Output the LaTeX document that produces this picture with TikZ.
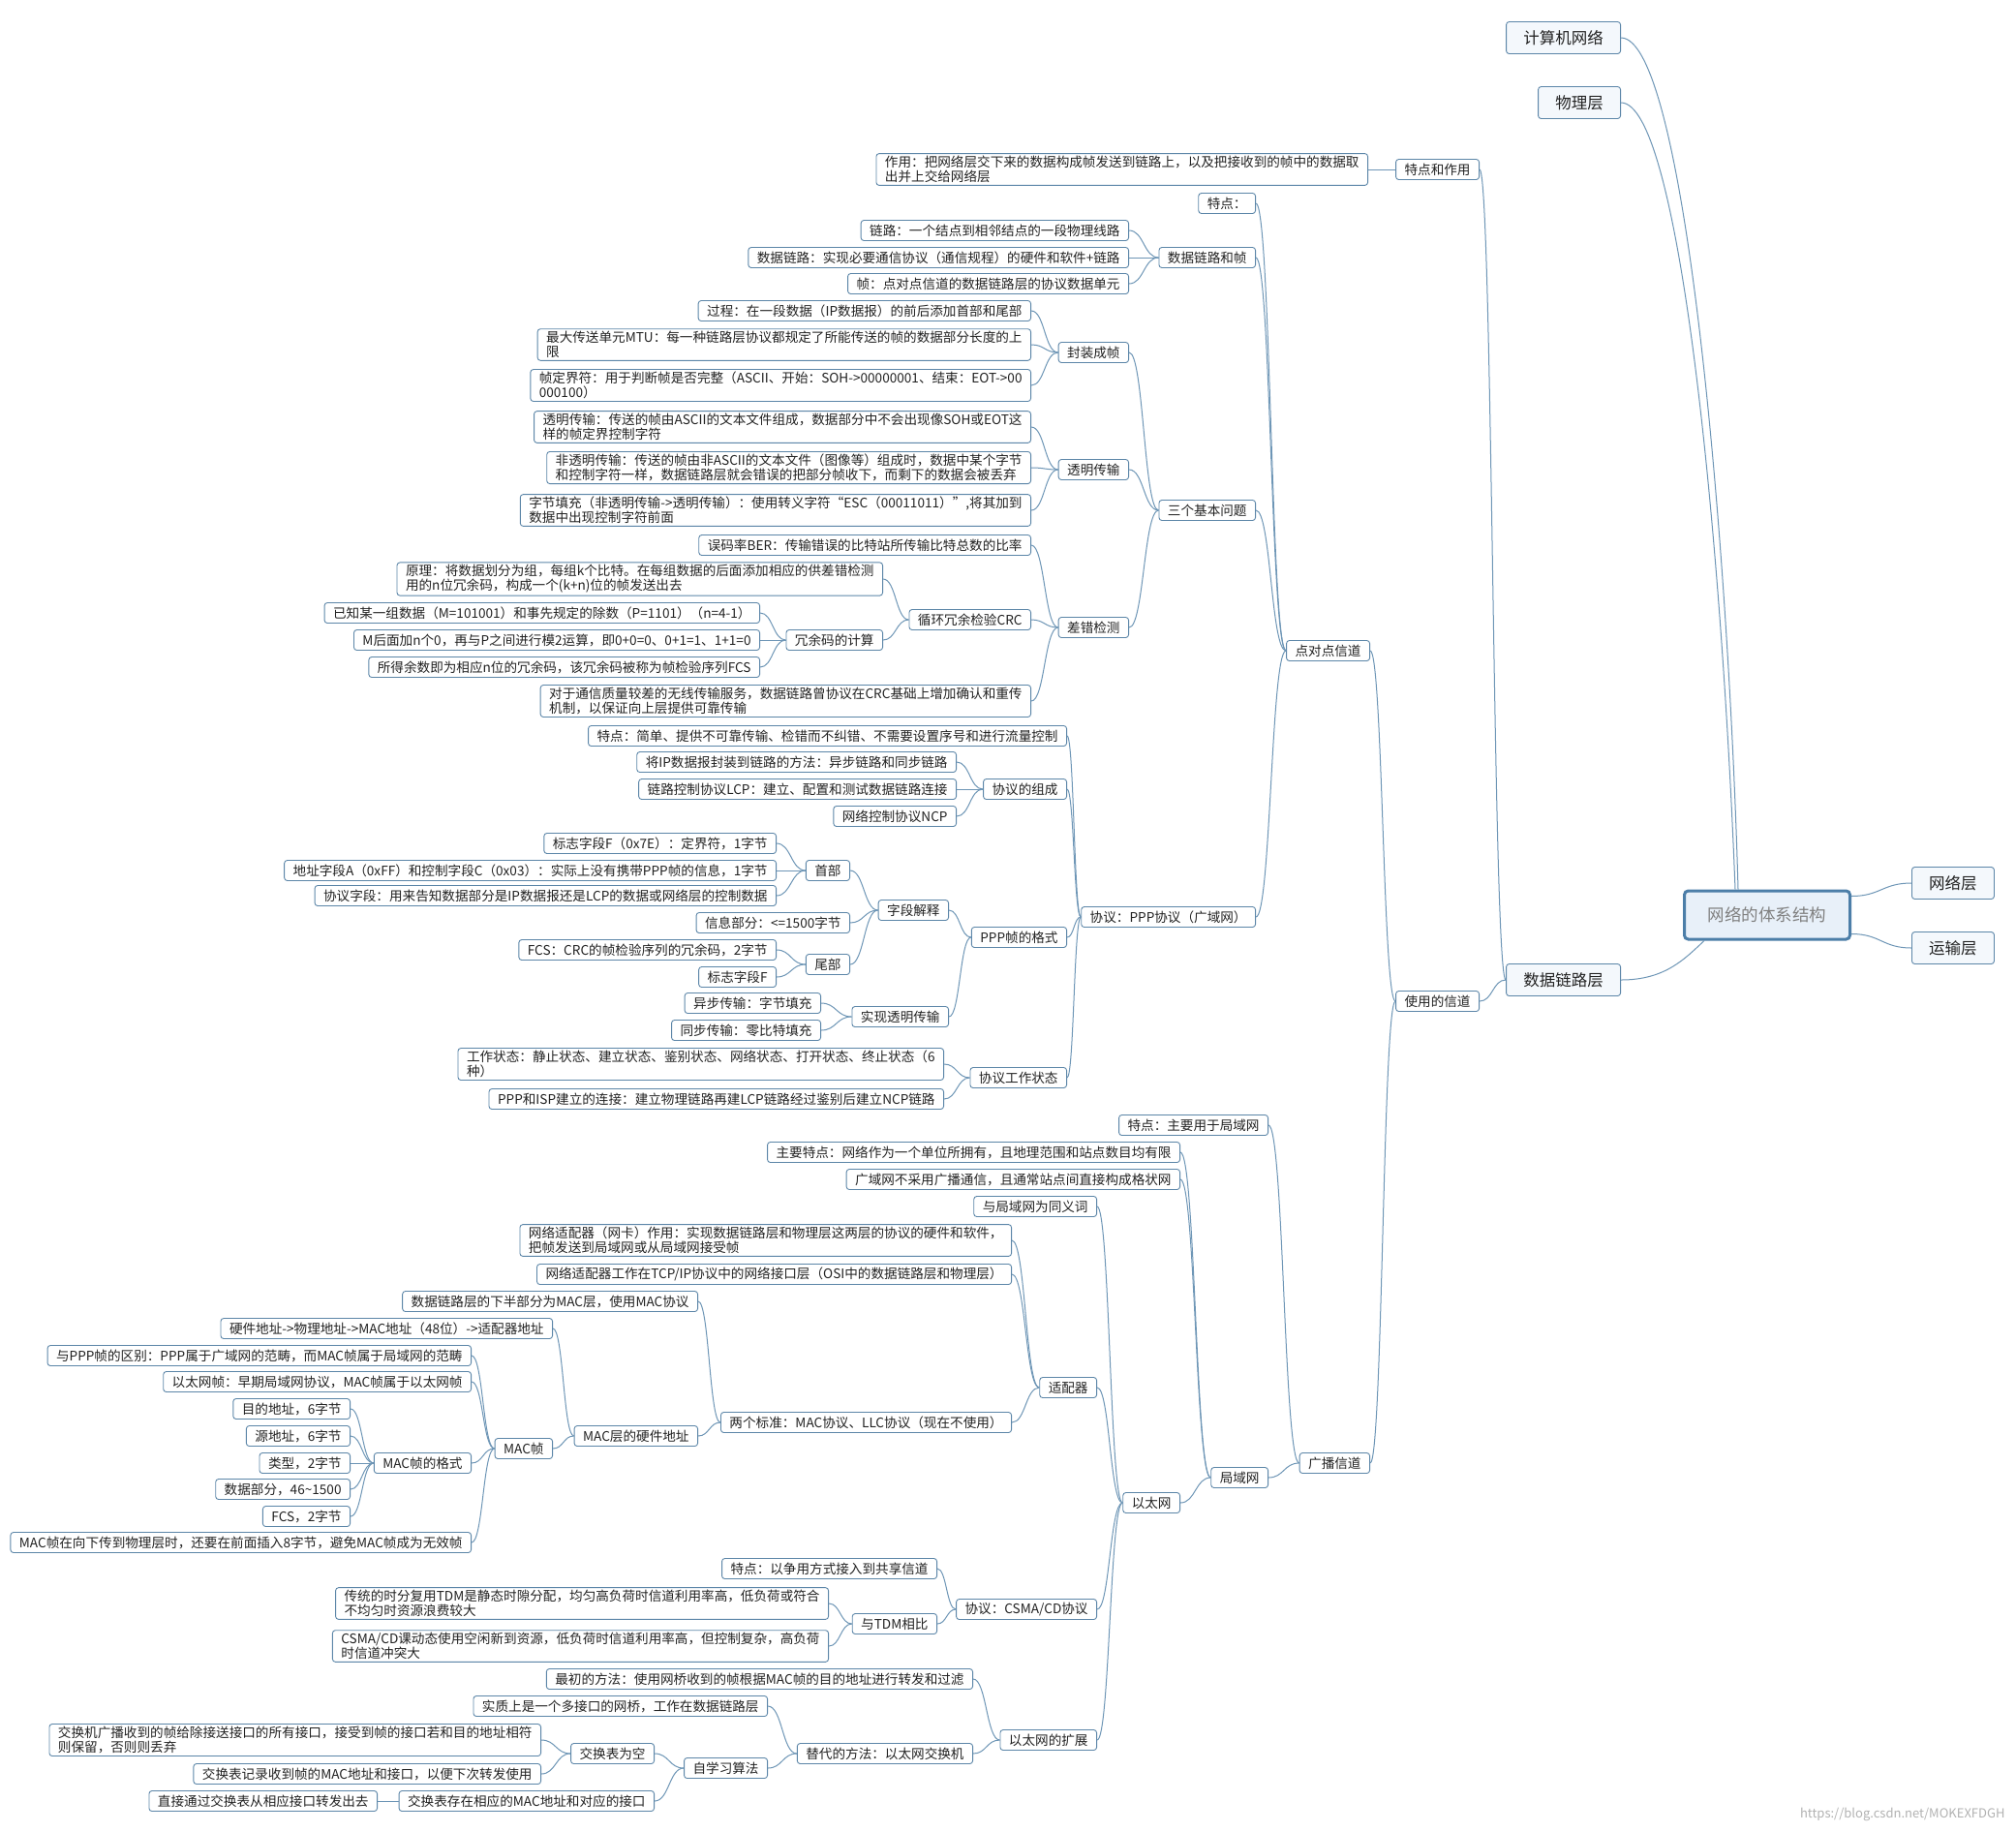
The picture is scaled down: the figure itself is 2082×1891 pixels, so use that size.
\documentclass[tikz,border=0pt]{standalone}
\usepackage{fontspec}
\setmainfont{Noto Sans CJK SC}
\usetikzlibrary{calc}
\definecolor{bc}{RGB}{92,134,168}
\definecolor{lc}{RGB}{110,150,182}
\definecolor{topfill}{RGB}{244,248,252}
\definecolor{rootfill}{RGB}{232,240,249}
\definecolor{rootbc}{RGB}{76,126,168}
\definecolor{tc}{RGB}{34,34,34}
\newcommand\lk[2]{\draw[lnk] let \p1=(#1.east), \p2=(#2.west), \n1={0.5*(\x2-\x1)} in (\p1) .. controls +(\n1,0pt) and +(-\n1,0pt) .. (\p2);}
\begin{document}
\begin{tikzpicture}[x=1pt,y=-1pt,
  nd/.style={draw=bc, rounded corners=3pt, fill=white, line width=0.9pt, inner xsep=9pt, inner ysep=2.5pt, minimum height=21pt, font=\fontsize{13.6}{15}\selectfont, text=tc, anchor=east, align=left},
  topn/.style={nd, fill=topfill, font=\fontsize{16.5}{18}\selectfont, minimum height=33pt, align=center},
  rootn/.style={draw=rootbc, line width=3pt, rounded corners=4pt, fill=rootfill, minimum width=171pt, minimum height=50pt, font=\fontsize{17.5}{19}\selectfont, text=black!50},
  lnk/.style={draw=lc, line width=1pt}]
\useasboundingbox (0,0) rectangle (2082,1891);
\fill[white] (0,0) rectangle (2082,1891);

% top level
\node[topn, minimum width=118pt] (n1) at (1674,39) {计算机网络};
\node[topn, minimum width=85pt] (n2) at (1674,106) {物理层};
\node[topn, minimum width=118pt] (dl) at (1674,1012) {数据链路层};
\node[rootn] (root) at (1825,945) {网络的体系结构};
\node[topn, anchor=west, minimum width=85pt] (n4) at (1974,912) {网络层};
\node[topn, anchor=west, minimum width=85pt] (n5) at (1974,979) {运输层};

\node[nd] (a) at (1528,175) {特点和作用};
\node[nd] (b) at (1528,1034) {使用的信道};
\node[nd] (a1) at (1413,175) {作用：把网络层交下来的数据构成帧发送到链路上，以及把接收到的帧中的数据取\\出并上交给网络层};
\node[nd] (b1) at (1415,672) {点对点信道};
\node[nd] (b2) at (1415,1511) {广播信道};

\node[nd] (b1a) at (1297,210) {特点：};
\node[nd] (b1b) at (1297,266) {数据链路和帧};
\node[nd] (b1c) at (1297,527) {三个基本问题};
\node[nd] (b1d) at (1297,947) {协议：PPP协议（广域网）};

\node[nd] (b1b1) at (1166,238) {链路：一个结点到相邻结点的一段物理线路};
\node[nd] (b1b2) at (1166,266) {数据链路：实现必要通信协议（通信规程）的硬件和软件+链路};
\node[nd] (b1b3) at (1166,293) {帧：点对点信道的数据链路层的协议数据单元};

\node[nd] (c1) at (1166,364) {封装成帧};
\node[nd] (c2) at (1166,485) {透明传输};
\node[nd] (c3) at (1166,648) {差错检测};

\node[nd] (c11) at (1065,321) {过程：在一段数据（IP数据报）的前后添加首部和尾部};
\node[nd] (c12) at (1065,356) {最大传送单元MTU：每一种链路层协议都规定了所能传送的帧的数据部分长度的上\\限};
\node[nd] (c13) at (1065,398) {帧定界符：用于判断帧是否完整（ASCII、开始：SOH->00000001、结束：EOT->00\\000100）};
\node[nd] (c21) at (1065,441) {透明传输：传送的帧由ASCII的文本文件组成，数据部分中不会出现像SOH或EOT这\\样的帧定界控制字符};
\node[nd] (c22) at (1065,483) {非透明传输：传送的帧由非ASCII的文本文件（图像等）组成时，数据中某个字节\\和控制字符一样，数据链路层就会错误的把部分帧收下，而剩下的数据会被丢弃};
\node[nd] (c23) at (1065,527) {字节填充（非透明传输->透明传输）：使用转义字符“ESC（00011011）”,将其加到\\数据中出现控制字符前面};
\node[nd] (c31) at (1065,563) {误码率BER：传输错误的比特站所传输比特总数的比率};
\node[nd] (c32) at (1065,640) {循环冗余检验CRC};
\node[nd] (c33) at (1065,724) {对于通信质量较差的无线传输服务，数据链路曾协议在CRC基础上增加确认和重传\\机制，以保证向上层提供可靠传输};

\node[nd] (c321) at (912,598) {原理：将数据划分为组，每组k个比特。在每组数据的后面添加相应的供差错检测\\用的n位冗余码，构成一个(k+n)位的帧发送出去};
\node[nd] (c322) at (912,661) {冗余码的计算};
\node[nd] (c3221) at (785,633) {已知某一组数据（M=101001）和事先规定的除数（P=1101）（n=4-1）};
\node[nd] (c3222) at (785,661) {M后面加n个0，再与P之间进行模2运算，即0+0=0、0+1=1、1+1=0};
\node[nd] (c3223) at (785,689) {所得余数即为相应n位的冗余码，该冗余码被称为帧检验序列FCS};

\node[nd] (p1) at (1102,760) {特点：简单、提供不可靠传输、检错而不纠错、不需要设置序号和进行流量控制};
\node[nd] (p2) at (1102,815) {协议的组成};
\node[nd] (p3) at (1102,968) {PPP帧的格式};
\node[nd] (p4) at (1102,1113) {协议工作状态};
\node[nd] (p21) at (988,787) {将IP数据报封装到链路的方法：异步链路和同步链路};
\node[nd] (p22) at (988,815) {链路控制协议LCP：建立、配置和测试数据链路连接};
\node[nd] (p23) at (988,843) {网络控制协议NCP};
\node[nd] (p31) at (980,940) {字段解释};
\node[nd] (p32) at (980,1050) {实现透明传输};
\node[nd] (p311) at (878,899) {首部};
\node[nd] (p312) at (878,953) {信息部分：<=1500字节};
\node[nd] (p313) at (878,996) {尾部};
\node[nd] (p3111) at (802,871) {标志字段F（0x7E）：定界符，1字节};
\node[nd] (p3112) at (802,899) {地址字段A（0xFF）和控制字段C（0x03）：实际上没有携带PPP帧的信息，1字节};
\node[nd] (p3113) at (802,925) {协议字段：用来告知数据部分是IP数据报还是LCP的数据或网络层的控制数据};
\node[nd] (p3131) at (802,981) {FCS：CRC的帧检验序列的冗余码，2字节};
\node[nd] (p3132) at (802,1009) {标志字段F};
\node[nd] (p321) at (848,1036) {异步传输：字节填充};
\node[nd] (p322) at (848,1064) {同步传输：零比特填充};
\node[nd] (p41) at (975,1099) {工作状态：静止状态、建立状态、鉴别状态、网络状态、打开状态、终止状态（6\\种）};
\node[nd] (p42) at (975,1135) {PPP和ISP建立的连接：建立物理链路再建LCP链路经过鉴别后建立NCP链路};

\node[nd] (g1) at (1310,1162) {特点：主要用于局域网};
\node[nd] (g2) at (1310,1526) {局域网};
\node[nd] (g21) at (1219,1190) {主要特点：网络作为一个单位所拥有，且地理范围和站点数目均有限};
\node[nd] (g22) at (1219,1218) {广域网不采用广播通信，且通常站点间直接构成格状网};
\node[nd] (g23) at (1219,1552) {以太网};
\node[nd] (e1) at (1133,1246) {与局域网为同义词};
\node[nd] (e2) at (1133,1433) {适配器};
\node[nd] (e3) at (1133,1662) {协议：CSMA/CD协议};
\node[nd] (e4) at (1133,1797) {以太网的扩展};
\node[nd] (e21) at (1045,1281) {网络适配器（网卡）作用：实现数据链路层和物理层这两层的协议的硬件和软件，\\把帧发送到局域网或从局域网接受帧};
\node[nd] (e22) at (1045,1316) {网络适配器工作在TCP/IP协议中的网络接口层（OSI中的数据链路层和物理层）};
\node[nd] (e23) at (1045,1469) {两个标准：MAC协议、LLC协议（现在不使用）};
\node[nd] (e231) at (721,1344) {数据链路层的下半部分为MAC层，使用MAC协议};
\node[nd] (e232) at (721,1483) {MAC层的硬件地址};
\node[nd] (e2321) at (571,1372) {硬件地址->物理地址->MAC地址（48位）->适配器地址};
\node[nd] (e2322) at (571,1496) {MAC帧};
\node[nd] (m1) at (487,1400) {与PPP帧的区别：PPP属于广域网的范畴，而MAC帧属于局域网的范畴};
\node[nd] (m2) at (487,1427) {以太网帧：早期局域网协议，MAC帧属于以太网帧};
\node[nd] (m3) at (487,1511) {MAC帧的格式};
\node[nd] (m4) at (487,1593) {MAC帧在向下传到物理层时，还要在前面插入8字节，避免MAC帧成为无效帧};
\node[nd] (m31) at (362,1455) {目的地址，6字节};
\node[nd] (m32) at (362,1483) {源地址，6字节};
\node[nd] (m33) at (362,1511) {类型，2字节};
\node[nd] (m34) at (362,1538) {数据部分，46\textasciitilde1500};
\node[nd] (m35) at (362,1566) {FCS，2字节};
\node[nd] (e31) at (968,1620) {特点：以争用方式接入到共享信道};
\node[nd] (e32) at (968,1677) {与TDM相比};
\node[nd] (e321) at (856,1656) {传统的时分复用TDM是静态时隙分配，均匀高负荷时信道利用率高，低负荷或符合\\不均匀时资源浪费较大};
\node[nd] (e322) at (856,1700) {CSMA/CD课动态使用空闲新到资源，低负荷时信道利用率高，但控制复杂，高负荷\\时信道冲突大};
\node[nd] (e41) at (1005,1734) {最初的方法：使用网桥收到的帧根据MAC帧的目的地址进行转发和过滤};
\node[nd] (e42) at (1005,1811) {替代的方法：以太网交换机};
\node[nd] (e421) at (793,1762) {实质上是一个多接口的网桥，工作在数据链路层};
\node[nd] (e422) at (793,1826) {自学习算法};
\node[nd] (s1) at (676,1811) {交换表为空};
\node[nd] (s2) at (676,1860) {交换表存在相应的MAC地址和对应的接口};
\node[nd] (s11) at (559,1797) {交换机广播收到的帧给除接送接口的所有接口，接受到帧的接口若和目的地址相符\\则保留，否则则丢弃};
\node[nd] (s12) at (559,1832) {交换表记录收到帧的MAC地址和接口，以便下次转发使用};
\node[nd] (s21) at (390,1860) {直接通过交换表从相应接口转发出去};

\node[anchor=east, text=black!30, font=\fontsize{13}{14}\selectfont] (wm) at (2074,1874) {https://blog.csdn.net/MOKEXFDGH};

% root connectors
\draw[lnk] (n1.east) .. controls (1740,39) and (1785,560) .. ([xshift=-30pt]root.north);
\draw[lnk] (n2.east) .. controls (1735,106) and (1778,560) .. ([xshift=-33pt]root.north);
\draw[lnk] (dl.east) .. controls (1720,1012) and (1740,990) .. ([xshift=22pt]root.south west);
\draw[lnk] ([yshift=-7pt]root.north east) .. controls +(30,0) and +(-30,0) .. (n4.west);
\draw[lnk] ([yshift=7pt]root.south east) .. controls +(30,0) and +(-30,0) .. (n5.west);

% tree connectors
\lk{a}{dl} \lk{b}{dl}
\lk{a1}{a}
\lk{b1}{b} \lk{b2}{b}
\lk{b1a}{b1} \lk{b1b}{b1} \lk{b1c}{b1} \lk{b1d}{b1}
\lk{b1b1}{b1b} \lk{b1b2}{b1b} \lk{b1b3}{b1b}
\lk{c1}{b1c} \lk{c2}{b1c} \lk{c3}{b1c}
\lk{c11}{c1} \lk{c12}{c1} \lk{c13}{c1}
\lk{c21}{c2} \lk{c22}{c2} \lk{c23}{c2}
\lk{c31}{c3} \lk{c32}{c3} \lk{c33}{c3}
\lk{c321}{c32} \lk{c322}{c32}
\lk{c3221}{c322} \lk{c3222}{c322} \lk{c3223}{c322}
\lk{p1}{b1d} \lk{p2}{b1d} \lk{p3}{b1d} \lk{p4}{b1d}
\lk{p21}{p2} \lk{p22}{p2} \lk{p23}{p2}
\lk{p31}{p3} \lk{p32}{p3}
\lk{p311}{p31} \lk{p312}{p31} \lk{p313}{p31}
\lk{p3111}{p311} \lk{p3112}{p311} \lk{p3113}{p311}
\lk{p3131}{p313} \lk{p3132}{p313}
\lk{p321}{p32} \lk{p322}{p32}
\lk{p41}{p4} \lk{p42}{p4}
\lk{g1}{b2} \lk{g2}{b2}
\lk{g21}{g2} \lk{g22}{g2} \lk{g23}{g2}
\lk{e1}{g23} \lk{e2}{g23} \lk{e3}{g23} \lk{e4}{g23}
\lk{e21}{e2} \lk{e22}{e2} \lk{e23}{e2}
\lk{e231}{e23} \lk{e232}{e23}
\lk{e2321}{e232} \lk{e2322}{e232}
\lk{m1}{e2322} \lk{m2}{e2322} \lk{m3}{e2322} \lk{m4}{e2322}
\lk{m31}{m3} \lk{m32}{m3} \lk{m33}{m3} \lk{m34}{m3} \lk{m35}{m3}
\lk{e31}{e3} \lk{e32}{e3}
\lk{e321}{e32} \lk{e322}{e32}
\lk{e41}{e4} \lk{e42}{e4}
\lk{e421}{e42} \lk{e422}{e42}
\lk{s1}{e422} \lk{s2}{e422}
\lk{s11}{s1} \lk{s12}{s1}
\lk{s21}{s2}
\end{tikzpicture}
\end{document}
